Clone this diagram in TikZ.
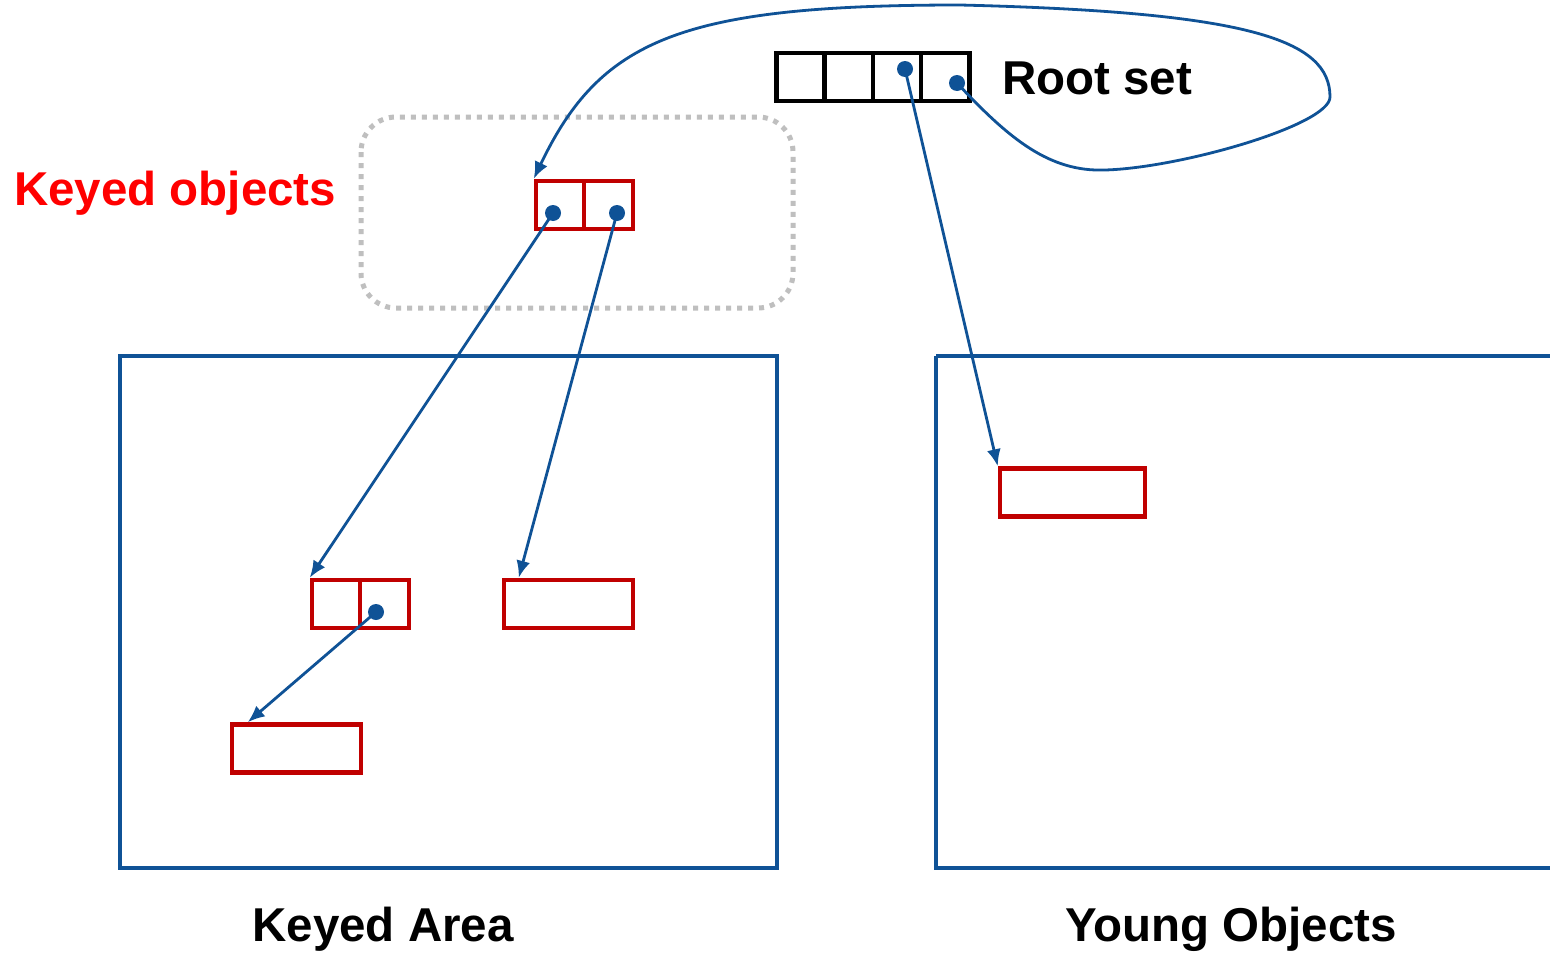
\documentclass[tikz,border=0pt]{standalone}
\usepackage{fontspec}
\setmainfont{Liberation Sans}
\usetikzlibrary{arrows.meta}
\definecolor{pblue}{HTML}{0F5296}
\definecolor{dred}{HTML}{C00000}
\definecolor{dotgray}{HTML}{BFBFBF}
\tikzset{
  x=1pt,y=-1pt,
  rootcell/.style={draw=black,line width=4.5pt,rectangle,inner sep=0pt,minimum width=48.25pt,minimum height=48pt},
  objbox/.style={draw=dred,line width=4.5pt,rectangle,inner sep=0pt,minimum height=48pt},
  area/.style={draw=pblue,line width=4.5pt},
  ptr/.style={draw=pblue,line width=2.8pt,-{Latex[length=17pt,width=14pt]}},
  dotpt/.style={circle,fill=pblue,inner sep=0pt,minimum size=16pt},
  lbl/.style={font=\fontsize{47.5}{50}\selectfont\bfseries,inner sep=0pt}
}
\begin{document}
\begin{tikzpicture}
\useasboundingbox (0,0) rectangle (1550,953);
\fill[white] (0,0) rectangle (1550,953);
% areas
\draw[area] (120,356) rectangle (777,868);
\draw[area] (936,356) -- (1552,356) (936,356) -- (936,868) -- (1552,868);
\node[lbl,anchor=base] (ka) at (383,941) {Keyed Area};
\node[lbl,anchor=base] (yo) at (1231,941) {Young Objects};
% dotted keyed region
\draw[dotgray,line width=5pt,dash pattern=on 5pt off 6pt,rounded corners=35pt] (361,117) rectangle (793,308);
\node[lbl,text=red,anchor=base west] (kol) at (14,205) {Keyed objects};
% root set
\node[rootcell] (r1) at (800.5,77) {};
\node[rootcell] (r2) at (848.75,77) {};
\node[rootcell] (r3) at (897,77) {};
\node[rootcell] (r4) at (945.25,77) {};
\node[lbl,anchor=base west] (rs) at (1002,94) {Root set};
% keyed object pair
\node[objbox,minimum width=48pt] (k1) at (560,205) {};
\node[objbox,minimum width=49pt] (k2) at (608.5,205) {};
% objects in keyed area
\node[objbox,minimum width=48pt] (a1) at (336,604) {};
\node[objbox,minimum width=49pt] (a2) at (384.5,604) {};
\node[objbox,minimum width=129pt] (b1) at (568.5,604) {};
\node[objbox,minimum width=129pt] (c1) at (296.5,748.5) {};
% object in young area
\node[objbox,minimum width=145pt] (y1) at (1072.5,492.5) {};
% pointer dots
\node[dotpt] (d3) at (905,69) {};
\node[dotpt] (d4) at (957,83) {};
\node[dotpt] (dk1) at (553,213) {};
\node[dotpt] (dk2) at (617,213) {};
\node[dotpt] (da2) at (376,612) {};
% arrows
\draw[ptr] (dk1.center) -- (a1.north west);
\draw[ptr] (dk2.center) -- ([xshift=17pt]b1.north west);
\draw[ptr] (da2.center) -- ([xshift=18pt]c1.north west);
\draw[ptr] (d3.center) -- (y1.north west);
\draw[ptr] (d4.center) .. controls (1010,140) and (1050,172) .. (1105,170)
  .. controls (1180,168) and (1330,125) .. (1330,97)
  .. controls (1330,40) and (1250,12) .. (960,5)
  .. controls (680,5) and (600,40) .. (k1.north west);
\end{tikzpicture}
\end{document}
